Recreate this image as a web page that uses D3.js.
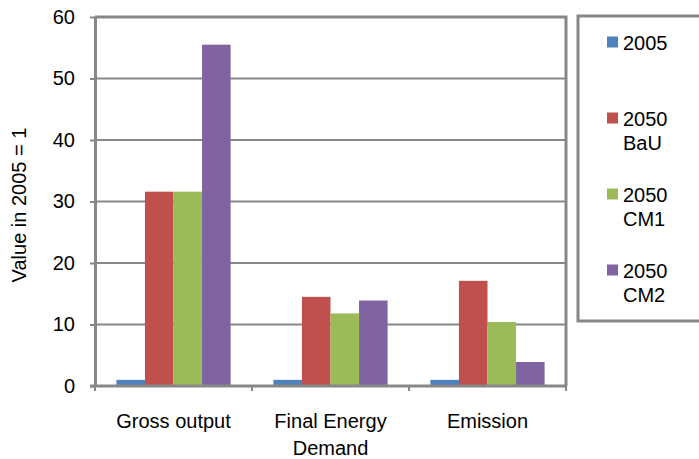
<!DOCTYPE html>
<html><head><meta charset="utf-8">
<script src="https://cdn.jsdelivr.net/npm/d3@7"></script>
<style>body{margin:0;background:#fff}svg{display:block}text{font-family:"Liberation Sans",Arial,sans-serif;fill:#000}</style>
</head><body>
<script>
const categories = ["Gross output", "Final Energy\nDemand", "Emission"];
const seriesNames = ["2005", "2050\nBaU", "2050\nCM1", "2050\nCM2"];
const v2005 = [1, 1, 1];
const vBaU = [31.6, 14.5, 17.1];
const vCM1 = [31.6, 11.8, 10.4];
const vCM2 = [55.5, 13.9, 3.9];
const yTicks = [0, 10, 20, 30, 40, 50, 60];
const colors = ["#4F81BD", "#C0504D", "#9BBB59", "#8064A2"];
const seriesValues = [v2005, vBaU, vCM1, vCM2];

const W = 699, H = 459, FS = 20;
const svg = d3.select("body").append("svg").attr("width", W).attr("height", H);
const L = 95, R = 566, T = 17, B = 386;

const x = d3.scaleBand().domain(d3.range(categories.length)).range([L, R]).padding(0);
const y = d3.scaleLinear().domain([0, 60]).range([B, T]);
// Excel gap width 150%: each category = 4 bars + 1.5 bar widths of gap
const bw = x.bandwidth() / 5.5;
const xs = d3.scaleBand().domain(d3.range(seriesNames.length)).range([0.75 * bw, 4.75 * bw]).padding(0);

// gridlines
svg.append("g").selectAll("line").data(yTicks.filter(d => d > 0 && d < 60)).join("line")
  .attr("x1", L).attr("x2", R).attr("y1", d => y(d)).attr("y2", d => y(d))
  .attr("stroke", "#878787").attr("stroke-width", 2);

// bars
seriesValues.forEach((vals, si) => {
  svg.append("g").selectAll("rect").data(vals).join("rect")
    .attr("x", (d, i) => x(i) + xs(si))
    .attr("width", xs.bandwidth())
    .attr("y", d => y(d))
    .attr("height", d => y(0) - y(d))
    .attr("fill", colors[si]);
});

// plot border (top, right)
svg.append("path").attr("d", `M${L},${T}H${R}V${B}`).attr("fill", "none").attr("stroke", "#878787").attr("stroke-width", 3);

// y axis
const yAxis = d3.axisLeft(y).tickValues(yTicks).tickSize(5).tickPadding(15).tickSizeOuter(0);
const gy = svg.append("g").attr("transform", `translate(${L},0)`).call(yAxis);
gy.select(".domain").attr("stroke", "#878787").attr("stroke-width", 3);
gy.selectAll(".tick line").attr("stroke", "#878787").attr("stroke-width", 2);
gy.selectAll(".tick text").attr("font-size", FS).attr("fill", "#000");

// x axis
const gx = svg.append("g").attr("transform", `translate(0,${B})`);
gx.append("line").attr("x1", L - 5).attr("x2", R).attr("y1", 0).attr("y2", 0).attr("stroke", "#878787").attr("stroke-width", 3);
gx.selectAll("line.tk").data(d3.range(categories.length + 1)).join("line").attr("class", "tk")
  .attr("x1", i => L + i * x.bandwidth()).attr("x2", i => L + i * x.bandwidth())
  .attr("y1", 0).attr("y2", 5).attr("stroke", "#878787").attr("stroke-width", 2);
categories.forEach((c, i) => {
  const cx = x(i) + x.bandwidth() / 2;
  const t = gx.append("text").attr("x", cx).attr("y", 42).attr("text-anchor", "middle").attr("font-size", FS);
  c.split("\n").forEach((ln, k) => t.append("tspan").attr("x", cx).attr("dy", k ? 27 : 0).text(ln));
});

// y title
svg.append("text").attr("transform", `translate(26,${205}) rotate(-90)`).attr("text-anchor", "middle")
  .attr("font-size", FS).text("Value in 2005 = 1");

// legend
svg.append("rect").attr("x", 578).attr("y", 16).attr("width", 140).attr("height", 305)
  .attr("fill", "#fff").attr("stroke", "#878787").attr("stroke-width", 3);
const legY = [42, 118, 194, 270];
seriesNames.forEach((s, i) => {
  svg.append("rect").attr("x", 607).attr("y", legY[i] - 5.5).attr("width", 11).attr("height", 11).attr("fill", colors[i]);
  const t = svg.append("text").attr("x", 623).attr("y", legY[i] + 8).attr("font-size", FS);
  s.split("\n").forEach((ln, k) => t.append("tspan").attr("x", 623).attr("dy", k ? 24 : 0).text(ln));
});
</script>
</body></html>
